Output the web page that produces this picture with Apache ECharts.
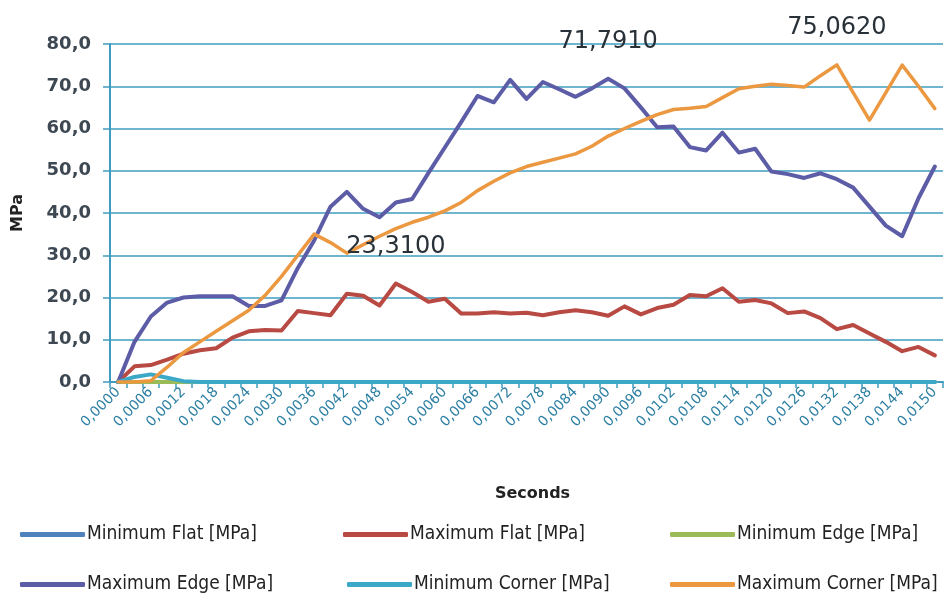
<!DOCTYPE html>
<html>
<head>
<meta charset="utf-8">
<script src="https://cdn.jsdelivr.net/npm/echarts@6/dist/echarts.min.js"></script>
<style>
  html, body { margin: 0; padding: 0; background: #ffffff; }
  #chart { width: 951px; height: 593px; }
</style>
</head>
<body>
<div id="chart"></div>
<script>
// time stamps (s), one every 0,0003
const seconds = ['0,0000','0,0003','0,0006','0,0009','0,0012','0,0015','0,0018','0,0021','0,0024','0,0027',
  '0,0030','0,0033','0,0036','0,0039','0,0042','0,0045','0,0048','0,0051','0,0054','0,0057',
  '0,0060','0,0063','0,0066','0,0069','0,0072','0,0075','0,0078','0,0081','0,0084','0,0087',
  '0,0090','0,0093','0,0096','0,0099','0,0102','0,0105','0,0108','0,0111','0,0114','0,0117',
  '0,0120','0,0123','0,0126','0,0129','0,0132','0,0135','0,0138','0,0141','0,0144','0,0147','0,0150'];

const minFlat = [0,0,0,0,0,0,0,0,0,0, 0,0,0,0,0,0,0,0,0,0, 0,0,0,0,0,0,0,0,0,0,
  0,0,0,0,0,0,0,0,0,0, 0,0,0,0,0,0,0,0,0,0, 0];
const maxFlat = [0,3.7,4,5.3,6.7,7.5,8,10.5,12,12.3, 12.2,16.8,16.3,15.8,20.9,20.4,18.1,23.31,21.3,19,
  19.7,16.2,16.2,16.5,16.2,16.4,15.8,16.5,17,16.5, 15.7,17.9,16,17.5,18.3,20.6,20.3,22.2,19,19.4,
  18.6,16.3,16.7,15.1,12.5,13.5,11.5,9.5,7.3,8.3, 6.3];
const minEdge = [0,0,0,0,0,0,0,0,0,0, 0,0,0,0,0,0,0,0,0,0, 0,0,0,0,0,0,0,0,0,0,
  0,0,0,0,0,0,0,0,0,0, 0,0,0,0,0,0,0,0,0,0, 0];
const maxEdge = [0,9.5,15.5,18.8,20,20.3,20.3,20.3,18,18, 19.3,27,33.5,41.5,45,41,39,42.5,43.3,49.5,
  55.5,61.5,67.7,66.2,71.5,67,71,69.3,67.5,69.5, 71.791,69.5,65,60.3,60.5,55.6,54.8,59,54.3,55.2,
  49.8,49.2,48.3,49.4,48,46,41.5,37,34.5,43.5, 51];
const minCorner = [0,1.2,1.8,1,0.2,0,0,0,0,0, 0,0,0,0,0,0,0,0,0,0, 0,0,0,0,0,0,0,0,0,0,
  0,0,0,0,0,0,0,0,0,0, 0,0,0,0,0,0,0,0,0,0, 0];
const maxCorner = [0,0,0.3,3.5,7,9.5,12,14.5,17,20.5, 25,30,35,33,30.5,32.5,34.5,36.3,37.8,39,
  40.5,42.5,45.3,47.5,49.5,51,52,53,54,55.8, 58.2,60,61.7,63.3,64.5,64.8,65.2,67.3,69.4,70,
  70.5,70.2,69.8,72.5,75.062,68.5,62,68.5,75,70, 64.7];

const names = ['Minimum Flat [MPa]', 'Maximum Flat [MPa]', 'Minimum Edge [MPa]',
  'Maximum Edge [MPa]', 'Minimum Corner [MPa]', 'Maximum Corner [MPa]'];
const colors = ['#4f81bd', '#b84a43', '#9bbb59', '#5d5ca6', '#3ca8c8', '#eb9840'];
const values = [minFlat, maxFlat, minEdge, maxEdge, minCorner, maxCorner];
// series that carry a peak label
const peakLabelled = [false, true, false, true, false, true];

const chart = echarts.init(document.getElementById('chart'));

const gridColor = '#3f9cc0';
const fmtComma = (v, d) => v.toFixed(d).replace('.', ',');

// legend: 2 rows x 3 columns, one legend per entry
const legendSpots = [[15, 520], [338, 520], [665, 520], [15, 570], [342, 570], [665, 570]];
const legends = names.map((n, i) => ({
  data: [n],
  left: legendSpots[i][0],
  top: legendSpots[i][1],
  icon: 'roundRect',
  itemWidth: 65,
  itemHeight: 5,
  itemGap: 0,
  textStyle: {
    fontFamily: "'DejaVu Sans Condensed', sans-serif",
    fontSize: 19,
    color: '#222',
    padding: [0, 0, 0, -3]
  }
}));

const option = {
  animation: false,
  backgroundColor: '#ffffff',
  color: colors,
  legend: legends,
  grid: { left: 110, right: 8, top: 44, bottom: 211 },
  xAxis: {
    type: 'category',
    data: seconds,
    boundaryGap: true,
    name: 'Seconds',
    nameLocation: 'middle',
    nameGap: 104,
    nameTextStyle: { fontFamily: 'DejaVu Sans', fontWeight: 'bold', fontSize: 16, color: '#222', padding: [0, 0, 0, 12] },
    axisLine: { lineStyle: { color: gridColor, width: 2 } },
    axisTick: { show: true, interval: 0, length: 6, lineStyle: { color: gridColor, width: 1.5 } },
    axisLabel: {
      interval: 1,
      rotate: 45,
      margin: 8,
      fontFamily: 'DejaVu Sans',
      fontSize: 14,
      color: '#2c7fa3'
    },
    splitLine: { show: false }
  },
  yAxis: {
    type: 'value',
    min: 0,
    max: 80,
    interval: 10,
    name: 'MPa',
    nameLocation: 'middle',
    nameRotate: 90,
    nameGap: 84,
    nameTextStyle: { fontFamily: 'DejaVu Sans', fontWeight: 'bold', fontSize: 16, color: '#222' },
    axisLine: { show: true, lineStyle: { color: gridColor, width: 2 } },
    axisTick: { show: true, length: 7, lineStyle: { color: gridColor, width: 1.5 } },
    axisLabel: {
      margin: 19,
      fontFamily: 'DejaVu Sans',
      fontWeight: 'bold',
      fontSize: 18,
      color: '#3d4852',
      formatter: v => fmtComma(v, 1)
    },
    splitLine: { lineStyle: { color: gridColor, width: 1.5 } }
  },
  series: names.map((n, i) => ({
    name: n,
    type: 'line',
    data: values[i],
    symbol: 'none',
    lineStyle: { width: i === 5 ? 3.5 : 4, join: 'round', cap: 'round' },
    markPoint: peakLabelled[i] ? {
      symbol: 'circle',
      symbolSize: 0,
      data: [{ type: 'max' }],
      label: {
        show: true,
        position: 'top',
        distance: 25,
        fontFamily: 'DejaVu Sans',
        fontSize: 24,
        color: '#283038',
        formatter: p => fmtComma(p.value, 4)
      }
    } : undefined
  }))
};

chart.setOption(option);
</script>
</body>
</html>
